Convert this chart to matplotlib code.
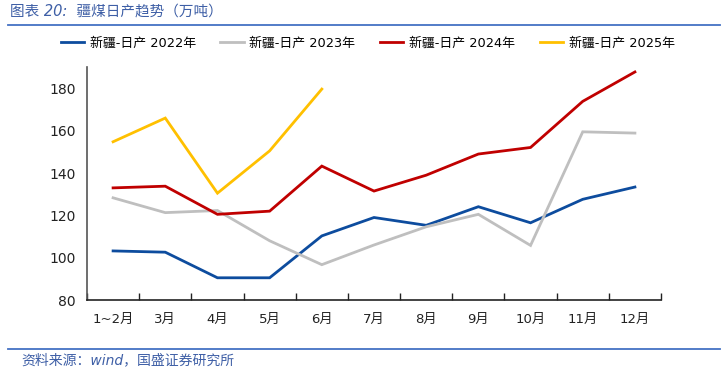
import matplotlib.pyplot as plt
from matplotlib.lines import Line2D

plt.rcParams['font.family'] = ['DejaVu Sans', 'Noto Sans CJK SC']

# data (万吨)
months = ['1~2月', '3月', '4月', '5月', '6月', '7月', '8月', '9月', '10月', '11月', '12月']
y2022 = [103.2, 102.6, 90.5, 90.5, 110.3, 119.0, 115.3, 124.1, 116.5, 127.6, 133.4]
y2023 = [128.3, 121.3, 122.3, 108.0, 96.7, 106.0, 114.6, 120.5, 105.8, 159.5, 158.9]
y2024 = [133.0, 133.8, 120.5, 122.0, 143.3, 131.5, 139.0, 149.0, 152.1, 173.9, 187.8]
y2025 = [154.8, 166.0, 130.5, 150.5, 179.7]
series_names = ['新疆-日产 2022年', '新疆-日产 2023年', '新疆-日产 2024年', '新疆-日产 2025年']
colors = ['#0D4C9E', '#BFBFBF', '#C00000', '#FFC000']

fig = plt.figure(figsize=(7.28, 3.71), dpi=100)
ax = fig.add_axes([87/728, 1-300/371, 574/728, 232.7/371])

x = list(range(len(months)))
for vals, c, name in zip([y2022, y2023, y2024, y2025], colors, series_names):
    ax.plot(x[:len(vals)], vals, color=c, lw=2.0, label=name, solid_joinstyle='miter')

ax.set_xlim(-0.5, len(months) - 0.5)
ax.set_ylim(80, 190)
ax.set_yticks([80, 100, 120, 140, 160, 180])
ax.set_xticks(x)
ax.set_xticklabels(months)
ax.set_xticks([i - 0.5 for i in range(len(months) + 1)], minor=True)
ax.tick_params(axis='x', which='major', length=0, pad=9, labelsize=9.5, colors='#222222')
ax.tick_params(axis='x', which='minor', length=5, direction='in', color='#222222', width=1)
ax.tick_params(axis='y', length=0, pad=8, labelsize=10, colors='#222222')

for s in ['top', 'right']:
    ax.spines[s].set_visible(False)
ax.spines['left'].set_color('#555555')
ax.spines['left'].set_linewidth(1.2)
ax.spines['bottom'].set_color('#222222')
ax.spines['bottom'].set_linewidth(1.2)

fig.legend(loc='center', bbox_to_anchor=(0.505, 1-43.5/371), ncol=4, frameon=False,
           fontsize=9.3, handlelength=1.8, handletextpad=0.45, columnspacing=1.9)

# title and source
fig.text(10/728, 1-11/371, '图表 20:  疆煤日产趋势（万吨）', color='#3E5FA6', fontsize=10.5,
         style='italic', va='center', ha='left')
fig.add_artist(Line2D([8/728, 720/728], [1-25/371, 1-25/371], color='#4472C4', lw=1.3))
fig.add_artist(Line2D([8/728, 720/728], [1-349/371, 1-349/371], color='#4472C4', lw=1.3))
fig.text(21/728, 1-360/371, '资料来源：wind，国盛证券研究所', color='#3E5FA6', fontsize=10,
         style='italic', va='center', ha='left')

fig.savefig('out.png', dpi=100)
